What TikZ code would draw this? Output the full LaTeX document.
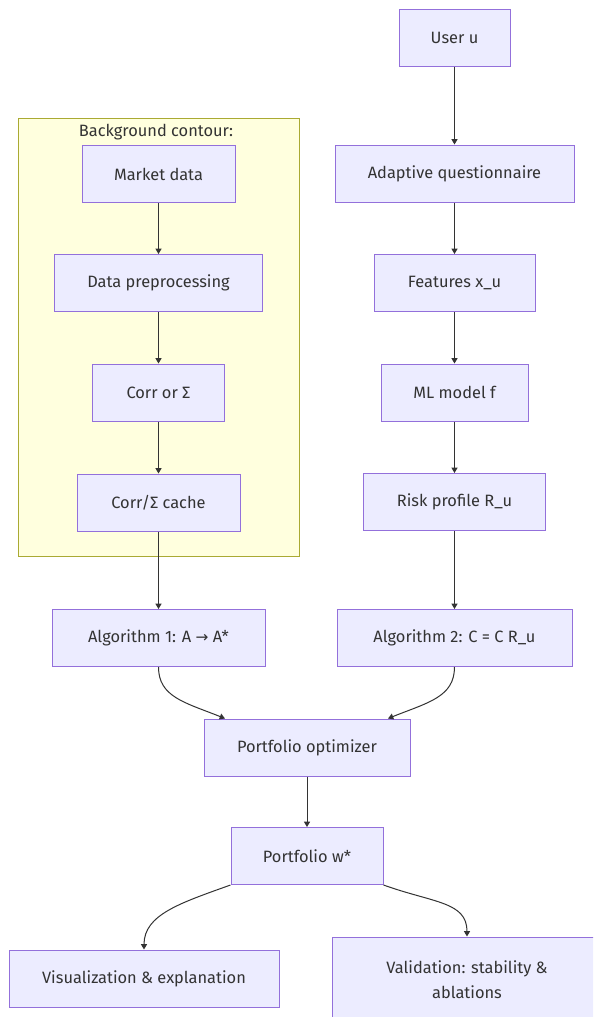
\documentclass[tikz,border=0pt]{standalone}
\usepackage{fontspec}
\setmainfont{Fira Sans}
\newfontfamily\arrowfont{DejaVu Sans}
\usetikzlibrary{arrows.meta, calc}

\definecolor{nodefill}{HTML}{ECECFF}
\definecolor{nodeline}{HTML}{9370DB}
\definecolor{groupfill}{HTML}{FFFFDE}
\definecolor{groupline}{HTML}{AAAA33}
\definecolor{edgeline}{HTML}{333333}
\definecolor{labeltext}{HTML}{333333}

\begin{document}
\begin{tikzpicture}[x=0.75pt, y=-0.75pt,
    every node/.style={font=\fontsize{12.3}{18.5}\selectfont, text=labeltext},
    box/.style={draw=nodeline, fill=nodefill, line width=0.75pt, minimum height=42.75pt, inner sep=0pt, align=center},
    arr/.style={draw=edgeline, line width=0.75pt, -{Triangle[length=4pt,width=4.5pt]}}]
    \clip (0,0) rectangle (593,1017);

    % Background contour
    \draw[fill=groupfill, draw=groupline, line width=0.75pt] (18,118) rectangle (299,556);
    \node (bglabel) at (156,132) {Background contour:};

    % Market side
    \node[box, minimum width=114.75pt] (market) at (158.5,174) {Market data};
    \node[box, minimum width=156pt] (prep) at (158.5,283) {Data preprocessing};
    \node[box, minimum width=99pt] (corr) at (158.5,392.5) {Corr or Σ};
    \node[box, minimum width=122.25pt] (cache) at (158.5,502.5) {Corr/Σ cache};
    \node[box, minimum width=159.75pt] (algone) at (158.5,638) {Algorithm 1: A {\arrowfont\fontsize{11.5}{14}\selectfont→} A*};

    % User side
    \node[box, minimum width=83.25pt] (user) at (454.5,37.5) {User u};
    \node[box, minimum width=179.25pt] (quest) at (454.5,173.5) {Adaptive questionnaire};
    \node[box, minimum width=120.75pt] (feat) at (454.5,283) {Features x\_u};
    \node[box, minimum width=110.25pt] (model) at (454.5,392.5) {ML model f};
    \node[box, minimum width=136.5pt] (risk) at (454.5,502) {Risk profile R\_u};
    \node[box, minimum width=176.25pt] (algtwo) at (454.5,638) {Algorithm 2: C = C R\_u};

    % Optimizer and outputs
    \node[box, minimum width=154.5pt] (opt) at (307,747.5) {Portfolio optimizer};
    \node[box, minimum width=114pt] (wstar) at (307,856) {Portfolio w*};
    \node[box, minimum width=202.5pt] (vis) at (144,978.5) {Visualization \& explanation};
    \node[box, minimum width=202.5pt, minimum height=63.75pt] (valid) at (467,979.5) {Validation: stability \&\\ablations};

    % Flow
    \draw[arr] (market.south) -- (prep.north);
    \draw[arr] (prep.south) -- (corr.north);
    \draw[arr] (corr.south) -- (cache.north);
    \draw[arr] (cache.south) -- (algone.north);
    \draw[arr] (user.south) -- (quest.north);
    \draw[arr] (quest.south) -- (feat.north);
    \draw[arr] (feat.south) -- (model.north);
    \draw[arr] (model.south) -- (risk.north);
    \draw[arr] (risk.south) -- (algtwo.north);

    \draw[arr] (algone.south) .. controls +(0,30) and +(-40,-16) .. ($(opt.north)+(-82,0)$);
    \draw[arr] (algtwo.south) .. controls +(0,30) and +(40,-16) .. ($(opt.north)+(81,0)$);
    \draw[arr] (opt.south) -- (wstar.north);
    \draw[arr] (wstar.south west) .. controls +(-50,18) and +(0,-35) .. (vis.north);
    \draw[arr] (wstar.south east) .. controls +(50,18) and +(0,-35) .. (valid.north);
\end{tikzpicture}
\end{document}
